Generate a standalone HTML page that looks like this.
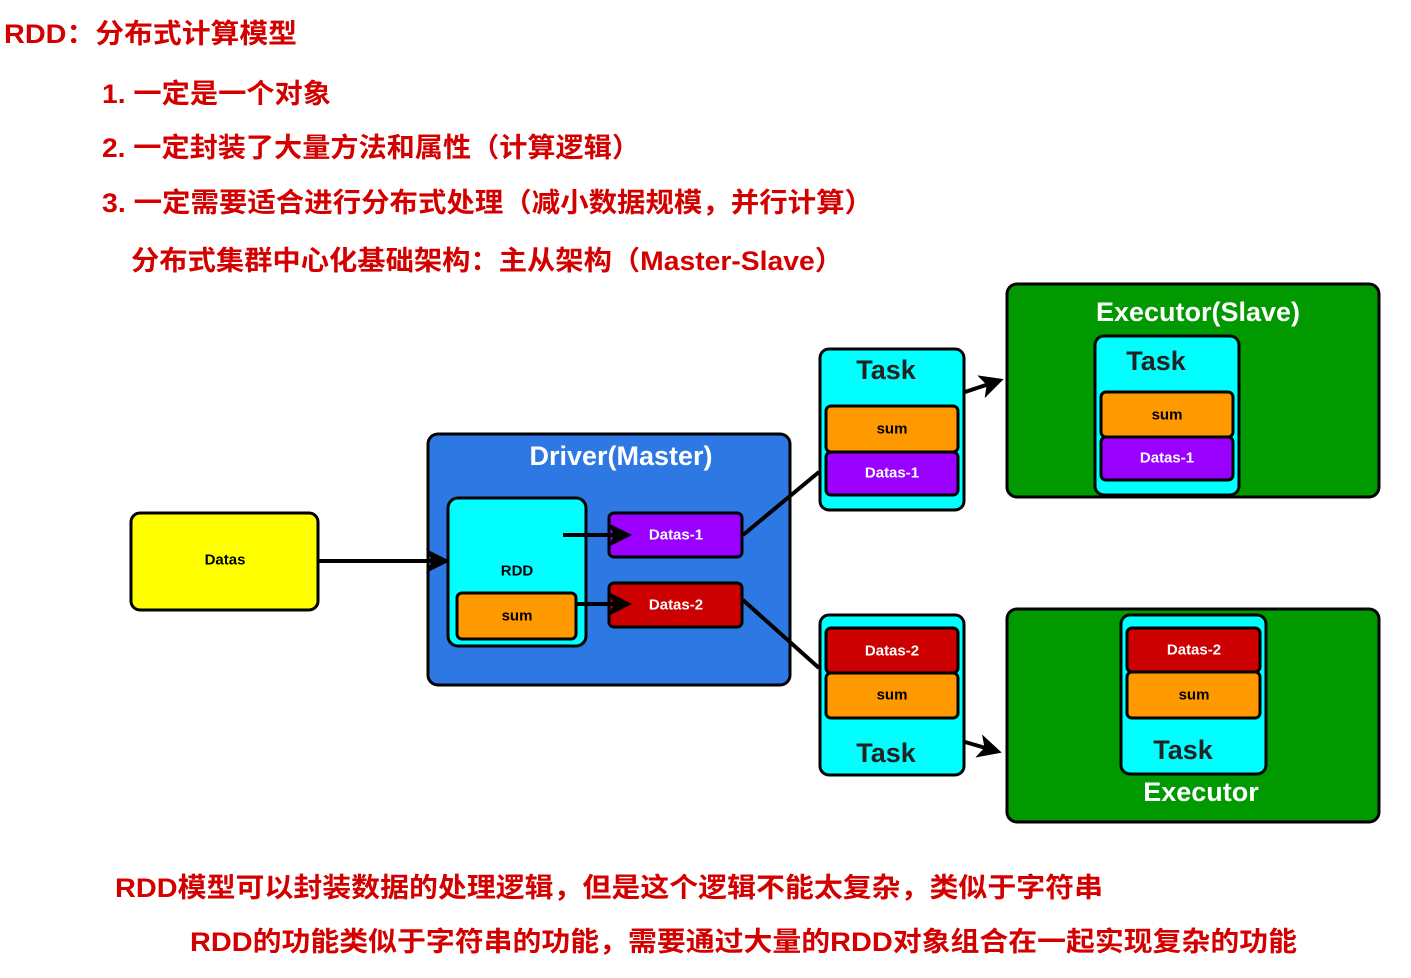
<!DOCTYPE html>
<html><head><meta charset="utf-8"><style>
html,body{margin:0;padding:0;background:#fff;}
svg{display:block;}
text{font-family:"Liberation Sans","Noto Sans CJK SC",sans-serif;font-weight:bold;}
</style></head><body>
<svg width="1411" height="978" viewBox="0 0 1411 978" xmlns="http://www.w3.org/2000/svg">
<defs>
<marker id="ah" markerWidth="6" markerHeight="6" refX="4.5" refY="3" orient="auto" markerUnits="strokeWidth">
<path d="M0,0 L6,3 L0,6 L1.5,3 Z" fill="#000"/>
</marker>
</defs>
<g fill="#d40000" font-size="27" dominant-baseline="central">
<text x="4" y="34" textLength="293" lengthAdjust="spacingAndGlyphs">RDD：分布式计算模型</text>
<text x="102" y="94" textLength="229" lengthAdjust="spacingAndGlyphs">1. 一定是一个对象</text>
<text x="102" y="148" textLength="538" lengthAdjust="spacingAndGlyphs">2. 一定封装了大量方法和属性（计算逻辑）</text>
<text x="102" y="203" textLength="771" lengthAdjust="spacingAndGlyphs">3. 一定需要适合进行分布式处理（减小数据规模，并行计算）</text>
<text x="131" y="261" textLength="712" lengthAdjust="spacingAndGlyphs">分布式集群中心化基础架构：主从架构（Master-Slave）</text>
<text x="115" y="888" textLength="988" lengthAdjust="spacingAndGlyphs">RDD模型可以封装数据的处理逻辑，但是这个逻辑不能太复杂，类似于字符串</text>
<text x="190" y="942" textLength="1107" lengthAdjust="spacingAndGlyphs">RDD的功能类似于字符串的功能，需要通过大量的RDD对象组合在一起实现复杂的功能</text>
</g>

<g stroke="#000" stroke-width="3">
<!-- Datas -->
<rect x="131" y="513" width="187" height="97" rx="9" fill="#ffff00"/>
<!-- Driver -->
<rect x="428" y="434" width="362" height="251" rx="10" fill="#2d78e2"/>
<rect x="448" y="498" width="138" height="148" rx="10" fill="#00ffff"/>
<rect x="457" y="593" width="119" height="46" rx="5" fill="#ff9900"/>
<rect x="609" y="513" width="133" height="44" rx="5" fill="#9900ff"/>
<rect x="609" y="583" width="133" height="44" rx="5" fill="#cc0000"/>
<!-- Task1 -->
<rect x="820" y="349" width="144" height="161" rx="9" fill="#00ffff"/>
<rect x="826" y="406" width="132" height="46" rx="5" fill="#ff9900"/>
<rect x="826" y="452" width="132" height="43" rx="5" fill="#9900ff"/>
<!-- Task2 -->
<rect x="820" y="615" width="144" height="160" rx="9" fill="#00ffff"/>
<rect x="826" y="628" width="132" height="45" rx="5" fill="#cc0000"/>
<rect x="826" y="673" width="132" height="45" rx="5" fill="#ff9900"/>
<!-- Exec1 -->
<rect x="1007" y="284" width="372" height="213" rx="10" fill="#009900"/>
<rect x="1095" y="336" width="144" height="159" rx="9" fill="#00ffff"/>
<rect x="1101" y="392" width="132" height="45" rx="5" fill="#ff9900"/>
<rect x="1101" y="437" width="132" height="43" rx="5" fill="#9900ff"/>
<!-- Exec2 -->
<rect x="1007" y="609" width="372" height="213" rx="10" fill="#009900"/>
<rect x="1121" y="615" width="145" height="159" rx="9" fill="#00ffff"/>
<rect x="1127" y="628" width="133" height="44" rx="5" fill="#cc0000"/>
<rect x="1127" y="672" width="133" height="46" rx="5" fill="#ff9900"/>
</g>

<g stroke="#000" stroke-width="4" fill="none">
<line x1="318" y1="561" x2="444" y2="561" marker-end="url(#ah)"/>
<line x1="563" y1="535" x2="626" y2="535" marker-end="url(#ah)"/>
<line x1="577" y1="604" x2="626" y2="604" marker-end="url(#ah)"/>
<line x1="743" y1="535" x2="819" y2="472"/>
<line x1="743" y1="600" x2="819" y2="668"/>
<line x1="965" y1="392" x2="998" y2="381" marker-end="url(#ah)"/>
<line x1="965" y1="742" x2="996" y2="751" marker-end="url(#ah)"/>
</g>

<g text-anchor="middle" dominant-baseline="central">
<text x="225" y="560" font-size="15" fill="#000">Datas</text>
<text x="621" y="456" font-size="27" fill="#fff">Driver(Master)</text>
<text x="517" y="571" font-size="15" fill="#000">RDD</text>
<text x="517" y="616" font-size="15" fill="#000">sum</text>
<text x="676" y="535" font-size="15" fill="#fff">Datas-1</text>
<text x="676" y="605" font-size="15" fill="#fff">Datas-2</text>
<text x="886" y="370" font-size="27" fill="#222">Task</text>
<text x="892" y="429" font-size="15" fill="#000">sum</text>
<text x="892" y="473" font-size="15" fill="#fff">Datas-1</text>
<text x="892" y="651" font-size="15" fill="#fff">Datas-2</text>
<text x="892" y="695" font-size="15" fill="#000">sum</text>
<text x="886" y="753" font-size="27" fill="#222">Task</text>
<text x="1198" y="312" font-size="27" fill="#fff">Executor(Slave)</text>
<text x="1156" y="361" font-size="27" fill="#222">Task</text>
<text x="1167" y="415" font-size="15" fill="#000">sum</text>
<text x="1167" y="458" font-size="15" fill="#fff">Datas-1</text>
<text x="1194" y="650" font-size="15" fill="#fff">Datas-2</text>
<text x="1194" y="695" font-size="15" fill="#000">sum</text>
<text x="1183" y="750" font-size="27" fill="#222">Task</text>
<text x="1201" y="792" font-size="27" fill="#fff">Executor</text>
</g>
</svg>
</body></html>
